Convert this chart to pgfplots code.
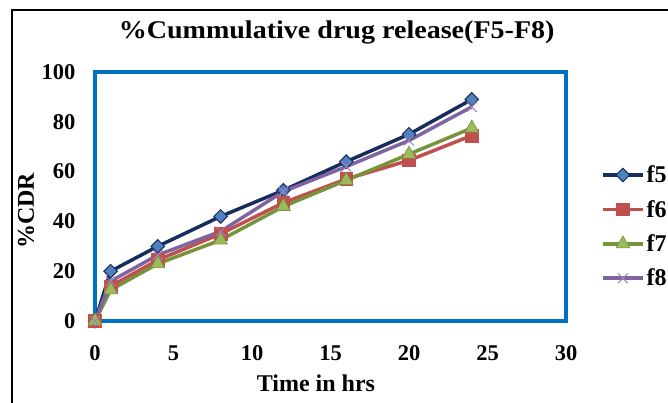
\documentclass[border=0pt]{standalone}
\usepackage{pgfplots}
\pgfplotsset{compat=1.18}
\usepackage{fontspec}
\setmainfont{Liberation Serif}
\newfontfamily\titlefont[FakeStretch=1.1]{Liberation Serif}

\definecolor{frameblue}{RGB}{0,112,192}
\definecolor{fiveline}{RGB}{23,45,95}
\definecolor{fivefill}{RGB}{79,129,189}
\definecolor{sixline}{RGB}{192,80,77}
\definecolor{sixfill}{RGB}{192,80,77}
\definecolor{sevenline}{RGB}{119,147,60}
\definecolor{sevenfill}{RGB}{155,187,89}
\definecolor{eightline}{RGB}{128,100,162}
\definecolor{eightfill}{RGB}{155,130,195}

\begin{document}
\begin{tikzpicture}
\begin{axis}[
  at={(95pt,-321pt)}, anchor=south west,
  scale only axis, width=471pt, height=249pt,
  xmin=0, xmax=30, ymin=0, ymax=100,
  xtick={0,5,...,30}, ytick={0,20,...,100},
  axis line style={frameblue, line width=4pt},
  major tick length=0pt,
  clip=false,
  /pgf/number format/assume math mode=true,
  tick label style={font=\fontsize{22.5}{22.5}\selectfont\bfseries},
  yticklabel style={xshift=-16pt},
  xticklabel style={yshift=-21pt},
  title={\%Cummulative drug release(F5-F8)},
  title style={font=\titlefont\fontsize{25.5}{25.5}\selectfont\bfseries,
    at={(axis description cs:0.513,1.169)}, anchor=center, yshift=-9pt},
  xlabel={Time in hrs},
  xlabel style={font=\fontsize{24}{24}\selectfont\bfseries,
    at={(axis description cs:0.469,-0.249)}, anchor=center},
  ylabel={\%CDR},
  ylabel style={font=\fontsize{24}{24}\selectfont\bfseries,
    at={(axis description cs:-0.1465,0.442)}, anchor=center},
  legend style={at={(axis description cs:1.07,0.64)}, anchor=north west,
    draw=none, fill=none, row sep=12pt, inner sep=2pt,
    font=\fontsize{24}{24}\selectfont\bfseries},
  legend cell align=left,
  legend image code/.code={\draw[mark repeat=2,mark phase=2]
    plot coordinates {(0pt,0pt) (20pt,0pt) (40pt,0pt)};},
]
\addplot[color=fiveline, line width=3.5pt, mark=square*, mark size=4.8pt,
  mark options={rotate=45, fill=fivefill, draw=fiveline, line width=1pt}]
  coordinates {(0,0) (1,20) (4,30) (8,42) (12,52.5) (16,64) (20,75) (24,89)};
\addlegendentry{f5}
\addplot[color=sixline, line width=3.5pt, mark=square*, mark size=6.3pt,
  mark options={fill=sixfill, draw=sixline, line width=0.6pt}]
  coordinates {(0,0) (1,14) (4,24.5) (8,35) (12,47.5) (16,57) (20,64.5) (24,74.5)};
\addlegendentry{f6}
\addplot[color=sevenline, line width=3.5pt, mark=triangle*, mark size=8pt,
  mark options={fill=sevenfill, draw=sevenline, line width=0.6pt}]
  coordinates {(0,0) (1,12.5) (4,23) (8,32.5) (12,46) (16,56.5) (20,67) (24,77.5)};
\addlegendentry{f7}
\addplot[color=eightline, line width=3.5pt, mark=x, mark size=7pt,
  mark options={draw=eightfill, line width=1pt}]
  coordinates {(0,0) (1,16) (4,26.5) (8,36) (12,52) (16,62) (20,72.5) (24,86)};
\addlegendentry{f8}
\end{axis}
% chart area border
\draw[black, line width=1.8pt] (12pt,-430pt) -- (12pt,-10pt) -- (700pt,-10pt);
\pgfresetboundingbox
\useasboundingbox (0pt,0pt) rectangle (668pt,-402pt);
\end{tikzpicture}
\end{document}
